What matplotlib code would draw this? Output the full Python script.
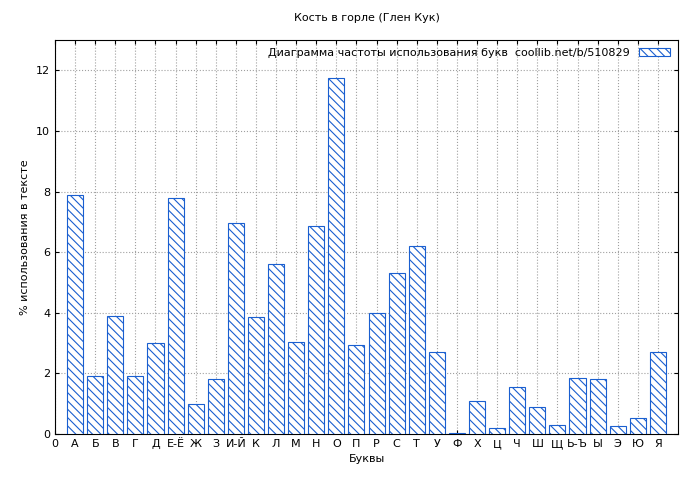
import matplotlib
matplotlib.use('Agg')
import matplotlib.pyplot as plt

plt.rcParams['font.family'] = ['DejaVu Sans']
plt.rcParams['hatch.color'] = '#1a5fd0'
plt.rcParams['hatch.linewidth'] = 0.8

letters = ['А', 'Б', 'В', 'Г', 'Д', 'Е-Ё', 'Ж', 'З', 'И-Й', 'К', 'Л', 'М', 'Н', 'О', 'П',
           'Р', 'С', 'Т', 'У', 'Ф', 'Х', 'Ц', 'Ч', 'Ш', 'Щ', 'Ь-Ъ', 'Ы', 'Э', 'Ю', 'Я']
values = [7.9, 1.9, 3.9, 1.9, 3.0, 7.8, 1.0, 1.8, 6.95, 3.85, 5.6, 3.05, 6.85, 11.75, 2.95,
          4.0, 5.3, 6.2, 2.7, 0.03, 1.1, 0.2, 1.55, 0.9, 0.3, 1.85, 1.8, 0.28, 0.52, 2.7]

fig = plt.figure(figsize=(7, 4.8), dpi=100)
ax = fig.add_axes([55/700, 46/480, 623/700, 394/480])

pos = list(range(1, len(letters) + 1))
ax.bar(pos, values, width=0.8, color='white', edgecolor='#1a5fd0', linewidth=0.8,
       hatch='\\\\\\\\', label='Диаграмма частоты использования букв  coollib.net/b/510829', zorder=3)

ax.set_xlim(0, 31)
ax.set_ylim(0, 13)
ax.set_xticks([0] + pos)
ax.set_xticklabels(['0'] + letters, fontsize=8)
ax.set_yticks(range(0, 13, 2))
ax.tick_params(labelsize=8, direction='in', length=3, top=True, right=True)
ax.grid(True, linestyle=':', color='#a0a0a0', linewidth=0.8, zorder=0)
ax.set_xlabel('Буквы', fontsize=8)
ax.set_ylabel('% использования в тексте', fontsize=8)
ax.set_title('Кость в горле (Глен Кук)', fontsize=8, pad=14)
leg = ax.legend(loc='upper right', fontsize=8, frameon=False, markerfirst=False,
                handlelength=2.8, handleheight=0.7, borderaxespad=0.3)

fig.savefig('out.png', dpi=100)
